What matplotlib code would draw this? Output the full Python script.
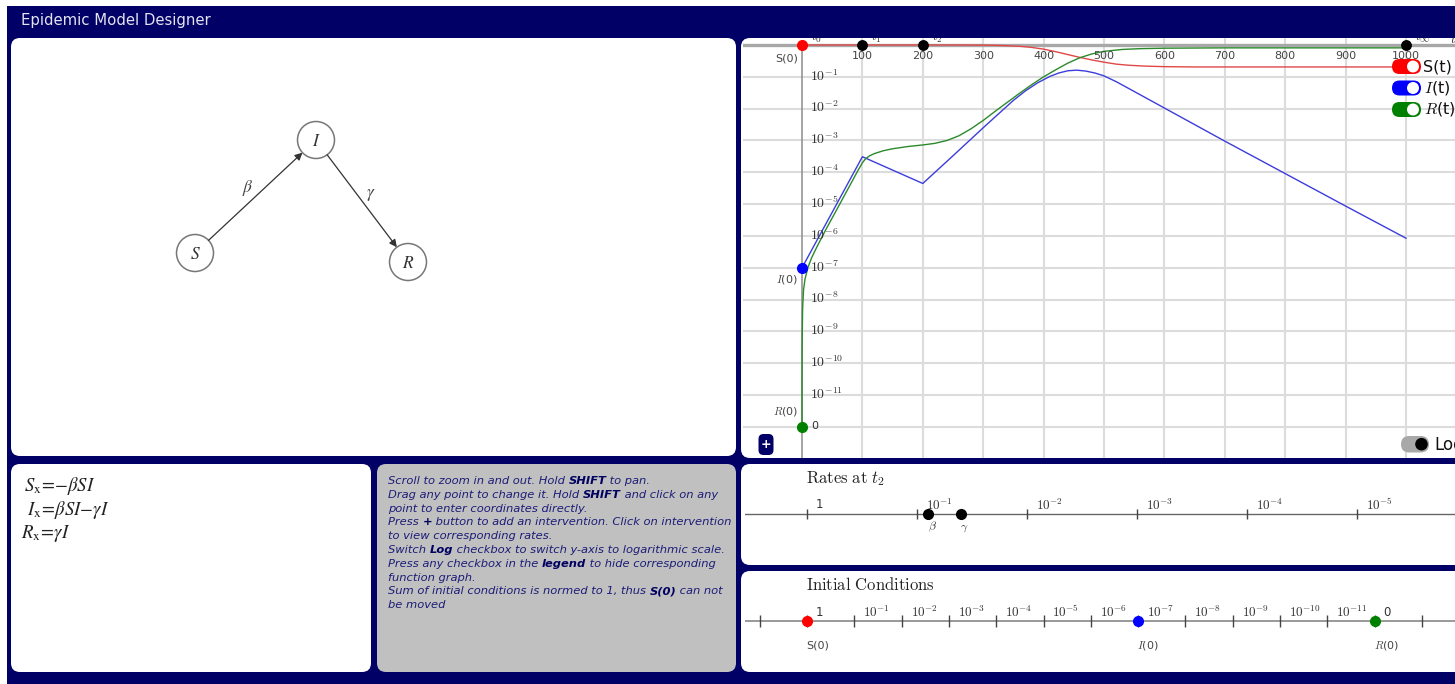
import numpy as np
import matplotlib
matplotlib.use("Agg")
import matplotlib.pyplot as plt
from matplotlib.patches import FancyBboxPatch, Circle, FancyArrowPatch, Rectangle
from matplotlib.ticker import NullLocator

plt.rcParams['font.family'] = ['DejaVu Sans']
plt.rcParams['mathtext.fontset'] = 'cm'

# ---------------- model output (log10 of population fraction) ----------------
t_S = [0, 250, 300, 330, 360, 380, 400, 420, 440, 460, 480, 500, 520, 540, 570,
       600, 650, 1000]
S_log10 = [0, 0, -0.004, -0.015, -0.04, -0.075, -0.13, -0.21, -0.30, -0.39, -0.47,
           -0.54, -0.60, -0.635, -0.665, -0.68, -0.69, -0.69]

t_I = [0, 100, 200, 250, 300, 350, 370, 390, 410, 425, 440, 455, 470, 485, 500,
       520, 550, 600, 700, 800, 900, 1000]
I_log10 = [-7, -3.51, -4.35, -3.48, -2.6, -1.74, -1.44, -1.19, -0.99, -0.88, -0.81,
           -0.79, -0.82, -0.88, -0.97, -1.15, -1.46, -1.98, -3.02, -4.04, -5.06,
           -6.07]

t_R = [0.05, 0.3, 1, 2.5, 5, 10, 16, 25, 40, 57, 75, 93, 100, 105, 112, 120, 135,
       150, 175, 200, 220, 240, 260, 280, 300, 320, 340, 360, 380, 400, 420, 440,
       460, 480, 500, 530, 560, 600, 700, 1000]
R_log10 = [-10.5, -9.3, -8.3, -7.7, -7.35, -6.98, -6.68, -6.33, -5.78, -5.19, -4.56,
           -3.93, -3.70, -3.58, -3.48, -3.41, -3.32, -3.26, -3.19, -3.14, -3.09,
           -3.0, -2.85, -2.63, -2.37, -2.08, -1.80, -1.52, -1.25, -1.0, -0.78,
           -0.57, -0.40, -0.28, -0.20, -0.14, -0.115, -0.10, -0.09, -0.09]

# initial conditions (normed to 1)
I0 = 1e-7
R0 = 0.0
S0 = 1.0
# rates on the interval after t2
beta = 0.079
gamma = 0.040
# interventions
t_marks = [0, 100, 200, 1000]
t_mark_labels = [r'$t_0$', r'$t_1$', r'$t_2$', r'$t_\infty$']
t_ticks = [100, 200, 300, 400, 500, 600, 700, 800, 900, 1000]
decades = list(range(-1, -12, -1))
rate_decades = list(range(0, -6, -1))
ic_decades = list(range(1, -14, -1))
ic_labelled = list(range(0, -12, -1))

ZERO_AT = 1e-12          # where a value of 0 is placed on the log scales

S = 10.0 ** np.array(S_log10)
I = 10.0 ** np.array(I_log10)
R = np.concatenate([[R0], 10.0 ** np.array(R_log10)])
tR = np.concatenate([[0.0], t_R])


def shown(v):
    v = np.asarray(v, dtype=float)
    return np.where(v > 0, v, ZERO_AT)


# ---------------- colours ----------------
NAVY = '#000066'
GRID = '#dcdcdc'
C_S, C_I, C_R = '#e04848', '#3c3cdc', '#2b8a2b'
D_S, D_I, D_R = '#ff0000', '#0000ff', '#008000'

W, H = 1455, 684
fig = plt.figure(figsize=(W / 100, H / 100), dpi=100)
fig.patch.set_facecolor('white')


def px_axes(x0, y0, x1, y1, z=0):
    return fig.add_axes([x0 / W, 1 - y1 / H, (x1 - x0) / W, (y1 - y0) / H], zorder=z)


def pixel_canvas(z):
    a = fig.add_axes([0, 0, 1, 1], zorder=z)
    a.set_xlim(0, W)
    a.set_ylim(H, 0)
    a.axis('off')
    return a


base = pixel_canvas(-1)
top = pixel_canvas(5)
renderer = fig.canvas.get_renderer()

# ---------------- page frame and panels ----------------
base.add_patch(Rectangle((7, 6), W, H, color=NAVY, lw=0))


def panel(x0, y0, x1, y1, fc='white'):
    base.add_patch(FancyBboxPatch((x0, y0), x1 - x0, y1 - y0,
                                  boxstyle='round,pad=0,rounding_size=9',
                                  fc=fc, ec='none'))


panel(11, 38, 736, 456)
panel(741, 38, 1475, 458)
panel(11, 464, 371, 672)
panel(377, 464, 736, 672, fc='#c0c0c0')
panel(741, 464, 1475, 565)
panel(741, 571, 1475, 672)


def fit_size(text, width, **kw):
    t = base.text(0, 0, text, fontsize=10, **kw)
    w = t.get_window_extent(renderer).width
    t.remove()
    return 10 * width / w


title = 'Epidemic Model Designer'
base.text(21, 21, title, fontsize=fit_size(title, 190), color='#e4e4f0',
          va='center', ha='left')

# ---------------- compartment diagram ----------------
nodes = {'S': (195, 253), 'I': (316, 140), 'R': (408, 262)}
edges = [('S', 'I', r'\beta'), ('I', 'R', r'\gamma')]
r_node = 18.5
for name, (x, y) in nodes.items():
    base.add_patch(Circle((x, y), r_node, fc='white', ec='#777', lw=1.1))
    base.text(x, y + 1, f'${name}$', ha='center', va='center', fontsize=12.5,
              color='#333', math_fontfamily='stix')
for a, b, lab in edges:
    (x0, y0), (x1, y1) = nodes[a], nodes[b]
    d = np.hypot(x1 - x0, y1 - y0)
    ux, uy = (x1 - x0) / d, (y1 - y0) / d
    p0 = (x0 + ux * r_node, y0 + uy * r_node)
    p1 = (x1 - ux * r_node, y1 - uy * r_node)
    base.add_patch(FancyArrowPatch(p0, p1, arrowstyle='-|>', mutation_scale=11,
                                   color='#333', lw=0.9, shrinkA=0, shrinkB=0))
    mx, my = (x0 + x1) / 2, (y0 + y1) / 2
    base.text(mx + uy * 11, my - ux * 11, f'${lab}$', ha='center', va='center',
              fontsize=12.5, color='#444', math_fontfamily='stix')

# ---------------- equations ----------------
equations = [r'$S_{\mathrm{x}}\!=\!{-}\beta SI$',
             r'$I_{\mathrm{x}}\!=\!\beta SI{-}\gamma I$',
             r'$R_{\mathrm{x}}\!=\!\gamma I$']
for (x, y), eq in zip([(24, 486), (27, 510), (21, 534)], equations):
    base.text(x, y, eq, fontsize=13.5, ha='left', va='center', color='#222',
              math_fontfamily='stix')

# ---------------- help text ----------------
help_lines = [
    [('Scroll to zoom in and out. Hold ', 0), ('SHIFT', 1), (' to pan.', 0)],
    [('Drag any point to change it. Hold ', 0), ('SHIFT', 1), (' and click on any', 0)],
    [('point to enter coordinates directly.', 0)],
    [('Press ', 0), ('+', 1), (' button to add an intervention. Click on intervention', 0)],
    [('to view corresponding rates.', 0)],
    [('Switch ', 0), ('Log', 1), (' checkbox to switch y-axis to logarithmic scale.', 0)],
    [('Press any checkbox in the ', 0), ('legend', 1), (' to hide corresponding', 0)],
    [('function graph.', 0)],
    [('Sum of initial conditions is normed to 1, thus ', 0), ('S(0)', 1), (' can not', 0)],
    [('be moved', 0)],
]


def seg_width(s, size, bold):
    kw = dict(fontsize=size, style='italic', weight='bold' if bold else 'normal')
    t1 = base.text(0, 0, s + '|', **kw)
    t2 = base.text(0, 0, '|', **kw)
    w = t1.get_window_extent(renderer).width - t2.get_window_extent(renderer).width
    t1.remove()
    t2.remove()
    return w


ref = help_lines[3]
size10 = sum(seg_width(s, 10, b) for s, b in ref)
hsize = 10 * 343 / size10
for i, line in enumerate(help_lines):
    x = 388
    y = 481 + i * 13.8
    for s, b in line:
        base.text(x, y, s, fontsize=hsize, style='italic',
                  weight='bold' if b else 'normal',
                  color='#000060' if b else '#1c1c78', ha='left', va='center')
        x += seg_width(s, hsize, b)

# ---------------- time course chart ----------------
T0_PX, PX_PER_T = 802, 0.604
TOP_PX, PX_PER_DEC = 45, 31.83
CX0, CY0, CX1, CY1 = 743, 38, 1455, 458
ax = px_axes(CX0, CY0, CX1, CY1, z=1)
ax.set_yscale('log')
ax.set_xlim((CX0 - T0_PX) / PX_PER_T, (CX1 - T0_PX) / PX_PER_T)
ax.set_ylim(10 ** (-12 - (CY1 - (TOP_PX + 12 * PX_PER_DEC)) / PX_PER_DEC),
            10 ** ((TOP_PX - CY0) / PX_PER_DEC))
ax.patch.set_visible(False)
for sp in ax.spines.values():
    sp.set_visible(False)
ax.set_xticks(t_ticks)
ax.set_yticks([10.0 ** k for k in decades] + [ZERO_AT])
ax.yaxis.set_minor_locator(NullLocator())
ax.tick_params(length=0, labelbottom=False, labelleft=False)
ax.grid(True, color=GRID, lw=1.5)
ymin = ax.get_ylim()[0]
ax.axhline(1.0, color='#a8a8a8', lw=2.4, zorder=2)
ax.vlines(0, ymin, 1.0, color='#8c8c8c', lw=1.1, zorder=2)

ax.plot(t_S, S, color=C_S, lw=1.0, zorder=3)
ax.plot(t_I, I, color=C_I, lw=1.0, zorder=3)
ax.plot(tR, shown(R), color=C_R, lw=1.0, zorder=3)

for t in t_ticks:
    ax.annotate(str(t), (t, 1.0), xytext=(0, -11), textcoords='offset pixels',
                ha='center', va='center', fontsize=8, color='#444', zorder=4)
for k in decades:
    ax.annotate(f'$10^{{{k}}}$', (0, 10.0 ** k), xytext=(8, 1),
                textcoords='offset pixels', ha='left', va='center', fontsize=10,
                color='#333', zorder=4)
ax.annotate('0', (0, ZERO_AT), xytext=(9, 1), textcoords='offset pixels',
            ha='left', va='center', fontsize=8, color='#333', zorder=4)

for t, lab in zip(t_marks, t_mark_labels):
    ax.annotate(lab, (t, 1.0), xytext=(9, 8), textcoords='offset pixels',
                ha='left', va='center', fontsize=9.5, color='#333',
                annotation_clip=False, clip_on=True, zorder=4)
ax.text(0.993, 1.0 - 1.0 / (CY1 - CY0), r'$t$', transform=ax.transAxes,
        ha='left', va='center', fontsize=10, color='#333', clip_on=True)

ax.plot(t_marks[1:], [1.0] * 3, 'o', color='black', ms=6.8, zorder=5, clip_on=False)
ax.plot([0], [S0], 'o', color=D_S, ms=7, zorder=6, clip_on=False)
ax.plot([0], [I0], 'o', color=D_I, ms=7, zorder=6, clip_on=False)
ax.plot([0], shown([R0]), 'o', color=D_R, ms=7, zorder=6, clip_on=False)
ax.annotate('S(0)', (0, S0), xytext=(-4, -13), textcoords='offset pixels',
            ha='right', va='center', fontsize=8, color='#444')
ax.annotate(r'$I$(0)', (0, I0), xytext=(-4, -12), textcoords='offset pixels',
            ha='right', va='center', fontsize=8, color='#444')
ax.annotate(r'$R$(0)', (0, ZERO_AT), xytext=(-4, 15), textcoords='offset pixels',
            ha='right', va='center', fontsize=8, color='#444')

# legend switches
for (col, lab), yc in zip([(D_S, 'S(t)'), (D_I, r'$I$(t)'), (D_R, r'$R$(t)')],
                          [66.5, 88, 109.5]):
    top.add_patch(FancyBboxPatch((1392, yc - 7.5), 29, 15,
                                 boxstyle='round,pad=0,rounding_size=7.5',
                                 fc=col, ec='none'))
    top.add_patch(Circle((1413, yc), 6.0, fc='white', ec='none'))
    top.text(1423.5, yc, lab, fontsize=11.5, ha='left', va='center', color='#111')

# log switch and add button
top.add_patch(FancyBboxPatch((1401, 436), 28, 16.5,
                             boxstyle='round,pad=0,rounding_size=8.2',
                             fc='#a8a8a8', ec='none'))
top.add_patch(Circle((1421.5, 444.2), 6.3, fc='black', ec='none'))
top.text(1434, 445, 'Log', fontsize=12, ha='left', va='center', color='#111')
top.add_patch(FancyBboxPatch((758.5, 434), 15, 21,
                             boxstyle='round,pad=0,rounding_size=5',
                             fc=NAVY, ec='none'))
top.text(766, 444.5, '+', fontsize=9, weight='bold', ha='center', va='center',
         color='white')

# ---------------- rates strip ----------------
base.text(806, 479, r'$\mathrm{Rates\ at}\ t_2$', fontsize=12, ha='left',
          va='center', color='#222')
R_X1, R_PX_DEC = 807, 110
rax = px_axes(745, 494, 1455, 534, z=1)
rax.set_xscale('log')
rax.set_xlim(10 ** ((R_X1 - 745) / R_PX_DEC), 10 ** (-(1455 - R_X1) / R_PX_DEC))
rax.set_ylim(-1, 1)
rax.axis('off')
rax.axhline(0, color='#666', lw=1.0)
rt = [10.0 ** k for k in rate_decades]
rax.vlines(rt, -0.27, 0.27, color='#444', lw=1.0)
for k, v in zip(rate_decades, rt):
    lab = '1' if k == 0 else f'$10^{{{k}}}$'
    rax.annotate(lab, (v, 0), xytext=(9, 9), textcoords='offset pixels',
                 ha='left', va='center', fontsize=9.5 if k else 8.5, color='#333')
rax.plot([beta, gamma], [0, 0], 'o', color='black', ms=7, zorder=4)
rax.annotate(r'$\beta$', (beta, 0), xytext=(4, -13), textcoords='offset pixels',
             ha='center', va='center', fontsize=8.5, color='#333')
rax.annotate(r'$\gamma$', (gamma, 0), xytext=(3, -13), textcoords='offset pixels',
             ha='center', va='center', fontsize=8.5, color='#333')

# ---------------- initial conditions strip ----------------
base.text(806, 585, r'$\mathrm{Initial\ Conditions}$', fontsize=12, ha='left',
          va='center', color='#222')
IC_X1, IC_PX_DEC = 807, 47.3
iax = px_axes(745, 601, 1455, 641, z=1)
iax.set_xscale('log')
iax.set_xlim(10 ** ((IC_X1 - 745) / IC_PX_DEC), 10 ** (-(1455 - IC_X1) / IC_PX_DEC))
iax.set_ylim(-1, 1)
iax.axis('off')
iax.axhline(0, color='#999', lw=1.4)
iax.vlines([10.0 ** k for k in ic_decades], -0.3, 0.3, color='#444', lw=1.0)
for k in ic_labelled:
    lab = '1' if k == 0 else f'$10^{{{k}}}$'
    iax.annotate(lab, (10.0 ** k, 0), xytext=(9, 9), textcoords='offset pixels',
                 ha='left', va='center', fontsize=9.5 if k else 8.5, color='#333')
iax.annotate('0', (ZERO_AT, 0), xytext=(9, 9), textcoords='offset pixels',
             ha='left', va='center', fontsize=8.5, color='#333')
for v, col, lab in [(S0, D_S, 'S(0)'), (I0, D_I, r'$I$(0)'), (R0, D_R, r'$R$(0)')]:
    pos = shown([v])[0]
    iax.plot([pos], [0], 'o', color=col, ms=7, zorder=4)
    iax.annotate(lab, (pos, 0), xytext=(-1, -25), textcoords='offset pixels',
                 ha='left', va='center', fontsize=8, color='#444')

fig.savefig('out.png', dpi=100)
